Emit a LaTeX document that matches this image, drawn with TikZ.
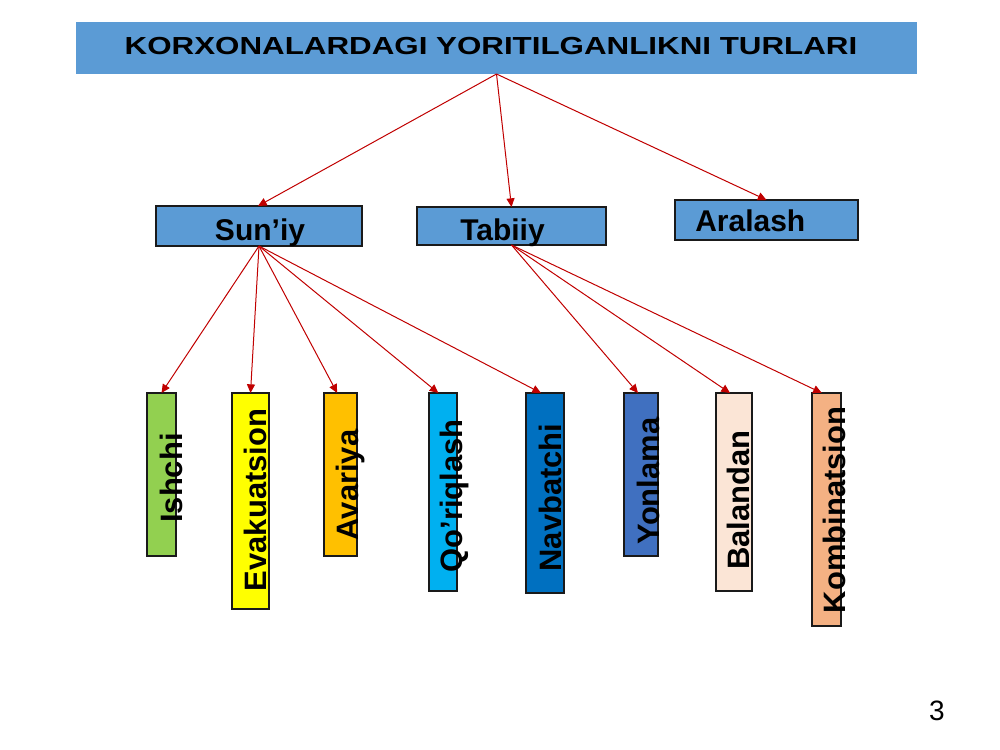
\documentclass[tikz,border=0pt]{standalone}
\usepackage{fontspec}
\setmainfont{Liberation Sans}
\newfontfamily\heavy{Liberation Sans Bold}
\newfontfamily\heavywide{Liberation Sans Bold}[FakeStretch=1.27]
\usetikzlibrary{arrows.meta}
\definecolor{hdrblue}{HTML}{5B9BD5}
\definecolor{arrred}{HTML}{C00000}
\definecolor{cish}{HTML}{92D050}
\definecolor{ceva}{HTML}{FFFF00}
\definecolor{cava}{HTML}{FFC000}
\definecolor{cqor}{HTML}{00B0F0}
\definecolor{cnav}{HTML}{0070C0}
\definecolor{cyon}{HTML}{4070C0}
\definecolor{cbal}{HTML}{FBE5D6}
\definecolor{ckom}{HTML}{F4B183}
\definecolor{edge}{HTML}{1A1A1A}
\tikzset{
  box/.style={rectangle, inner sep=0pt, outer sep=0pt, fill=hdrblue, draw=edge, line width=1pt},
  vbox/.style={rectangle, inner sep=0pt, outer sep=0pt, draw=edge, line width=0.8pt},
  boxtext/.style={inner sep=0pt, font=\heavy\fontsize{22.5}{26}\selectfont},
  vtext/.style={inner sep=0pt, rotate=90, anchor=base, font=\heavy\fontsize{23.2}{27}\selectfont},
  conn/.style={draw=arrred, line width=0.75pt, -{Triangle[width=6pt,length=6.5pt]}}
}
\begin{document}
\begin{tikzpicture}[x=0.75pt,y=-0.75pt]
\useasboundingbox (0,0) rectangle (1000,750);
% title
\node[rectangle, fill=hdrblue, inner sep=0pt, outer sep=0pt, minimum width=630.75pt, minimum height=39pt] (title) at (496.5,48) {};
\node[inner sep=0pt, anchor=base, font=\heavywide\fontsize{18.5}{20}\selectfont] (titletext) at (491,54.5) {KORXONALARDAGI YORITILGANLIKNI TURLARI};
% second level
\node[box, minimum width=154.5pt, minimum height=30pt] (sun) at (259,226) {};
\node[boxtext, anchor=base] (suntext) at (260,240) {Sun’iy};
\node[box, minimum width=141.75pt, minimum height=28.5pt] (tab) at (511.5,226) {};
\node[boxtext, anchor=base] (tabtext) at (502.5,240) {Tabiiy};
\node[box, minimum width=137.25pt, minimum height=30pt] (ara) at (766.5,220) {};
\node[boxtext, anchor=base west] (aratext) at (695,231.7) {Aralash};
% third level boxes
\node[vbox, fill=cish, minimum width=21.75pt, minimum height=122.25pt] (ish) at (161.5,474.5) {};
\node[vbox, fill=ceva, minimum width=27.75pt, minimum height=162pt] (eva) at (250.5,501) {};
\node[vbox, fill=cava, minimum width=24.75pt, minimum height=122.25pt] (ava) at (340.5,474.5) {};
\node[vbox, fill=cqor, minimum width=21pt, minimum height=148.5pt] (qor) at (443,492) {};
\node[vbox, fill=cnav, minimum width=28.5pt, minimum height=150pt] (nav) at (545,493) {};
\node[vbox, fill=cyon, minimum width=25.5pt, minimum height=122.25pt] (yon) at (641,474.5) {};
\node[vbox, fill=cbal, minimum width=27pt, minimum height=148.5pt] (bal) at (734,492) {};
\node[vbox, fill=ckom, minimum width=21.75pt, minimum height=174.75pt] (kom) at (826.5,509.5) {};
% vertical labels
\node[vtext] (ishtext) at (182,478) {Ishchi};
\node[vtext] (evatext) at (266,500) {Evakuatsion};
\node[vtext] (avatext) at (358,485) {Avariya};
\node[vtext] (qortext) at (462,496) {Qo’riqlash};
\node[vtext] (navtext) at (561,497.5) {Navbatchi};
\node[vtext] (yontext) at (659,481) {Yonlama};
\node[vtext] (baltext) at (749,500) {Balandan};
\node[vtext] (komtext) at (845,510) {Kombinatsion};
% page number
\node[inner sep=0pt, anchor=base, font=\fontsize{21}{24}\selectfont] (pagenum) at (937,720) {3};
% connectors
\draw[conn] (title.south) -- ([xshift=-0.75pt]sun.north);
\draw[conn] (title.south) -- (tab.north);
\draw[conn] (title.south) -- (ara.north);
\draw[conn] (sun.south) -- (ish.north);
\draw[conn] (sun.south) -- (eva.north);
\draw[conn] (sun.south) -- ([xshift=-2.5pt]ava.north);
\draw[conn] (sun.south) -- ([xshift=-3.5pt]qor.north);
\draw[conn] (sun.south) -- ([xshift=-3pt]nav.north);
\draw[conn] (tab.south) -- ([xshift=-2.25pt]yon.north);
\draw[conn] (tab.south) -- ([xshift=-3pt]bal.north);
\draw[conn] (tab.south) -- ([xshift=-3.5pt]kom.north);
\end{tikzpicture}
\end{document}
